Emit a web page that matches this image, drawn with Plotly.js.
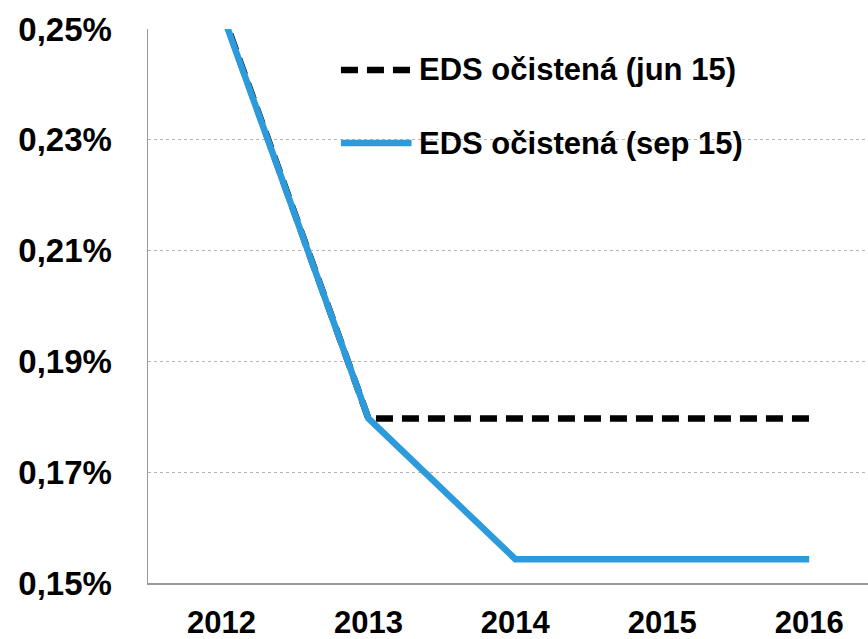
<!DOCTYPE html>
<html>
<head>
<meta charset="utf-8">
<script src="https://cdn.plot.ly/plotly-3.0.1.min.js"></script>
<style>
html,body{margin:0;padding:0;background:#fff;}
#chart{width:868px;height:639px;}
</style>
</head>
<body>
<div id="chart"></div>
<script>
const years = ['2012', '2013', '2014', '2015', '2016'];
const seriesNames = ['EDS očistená (jun 15)', 'EDS očistená (sep 15)'];
const edsJun15 = [0.2535, 0.1797, 0.1797, 0.1797, 0.1797];
const edsSep15 = [0.2532, 0.1797, 0.1543, 0.1543, 0.1543];
const yTickVals = [0.15, 0.17, 0.19, 0.21, 0.23, 0.25];
const yTickText = ['0,15%', '0,17%', '0,19%', '0,21%', '0,23%', '0,25%'];

const xIdx = years.map((_, i) => i);
const FONT = 'Liberation Sans, Arial, sans-serif';
const blue = '#2d9bdb';

const traces = [
  {x: xIdx, y: edsJun15, name: seriesNames[0], type: 'scatter', mode: 'lines',
   line: {color: '#000000', width: 6.5, dash: '17px,9px'}, showlegend: false},
  {x: xIdx, y: edsSep15, name: seriesNames[1], type: 'scatter', mode: 'lines',
   line: {color: blue, width: 6.5}, showlegend: false}
];

// custom legend (paper coords)
const legItems = [
  {y: 0.926, color: '#000000', dash: '17px,9px'},
  {y: 0.794, color: blue, dash: 'solid'}
];
const shapes = legItems.map(it => ({
  type: 'line', xref: 'paper', yref: 'paper',
  x0: 0.268, x1: 0.366, y0: it.y, y1: it.y,
  line: {color: it.color, width: 6.5, dash: it.dash}
}));
const annotations = legItems.map((it, i) => ({
  xref: 'paper', yref: 'paper', x: 0.374, y: it.y, xanchor: 'left', yanchor: 'middle',
  text: seriesNames[i], showarrow: false,
  font: {family: FONT, size: 31, color: '#000', weight: 'bold'}
}));

const layout = {
  width: 868, height: 639,
  margin: {l: 148, r: 0, t: 29, b: 56, pad: 0},
  paper_bgcolor: '#fff', plot_bgcolor: '#fff',
  showlegend: false,
  xaxis: {
    range: [-0.5, 4.4], tickvals: xIdx, ticktext: years,
    showgrid: false, zeroline: false, showline: true, linecolor: '#999', linewidth: 1.5,
    ticks: '', ticklabelstandoff: 11,
    tickfont: {family: FONT, size: 31, color: '#000', weight: 'bold'}
  },
  yaxis: {
    range: [0.15, 0.25], tickvals: yTickVals, ticktext: yTickText,
    showgrid: true, gridcolor: '#b5b5b5', gridwidth: 1, griddash: 'dot',
    zeroline: false, showline: true, linecolor: '#999', linewidth: 1.5,
    ticks: '', ticklabelstandoff: 28,
    tickfont: {family: FONT, size: 33, color: '#000', weight: 'bold'}
  },
  shapes: shapes,
  annotations: annotations
};

Plotly.newPlot('chart', traces, layout, {displayModeBar: false, staticPlot: true});
</script>
</body>
</html>
